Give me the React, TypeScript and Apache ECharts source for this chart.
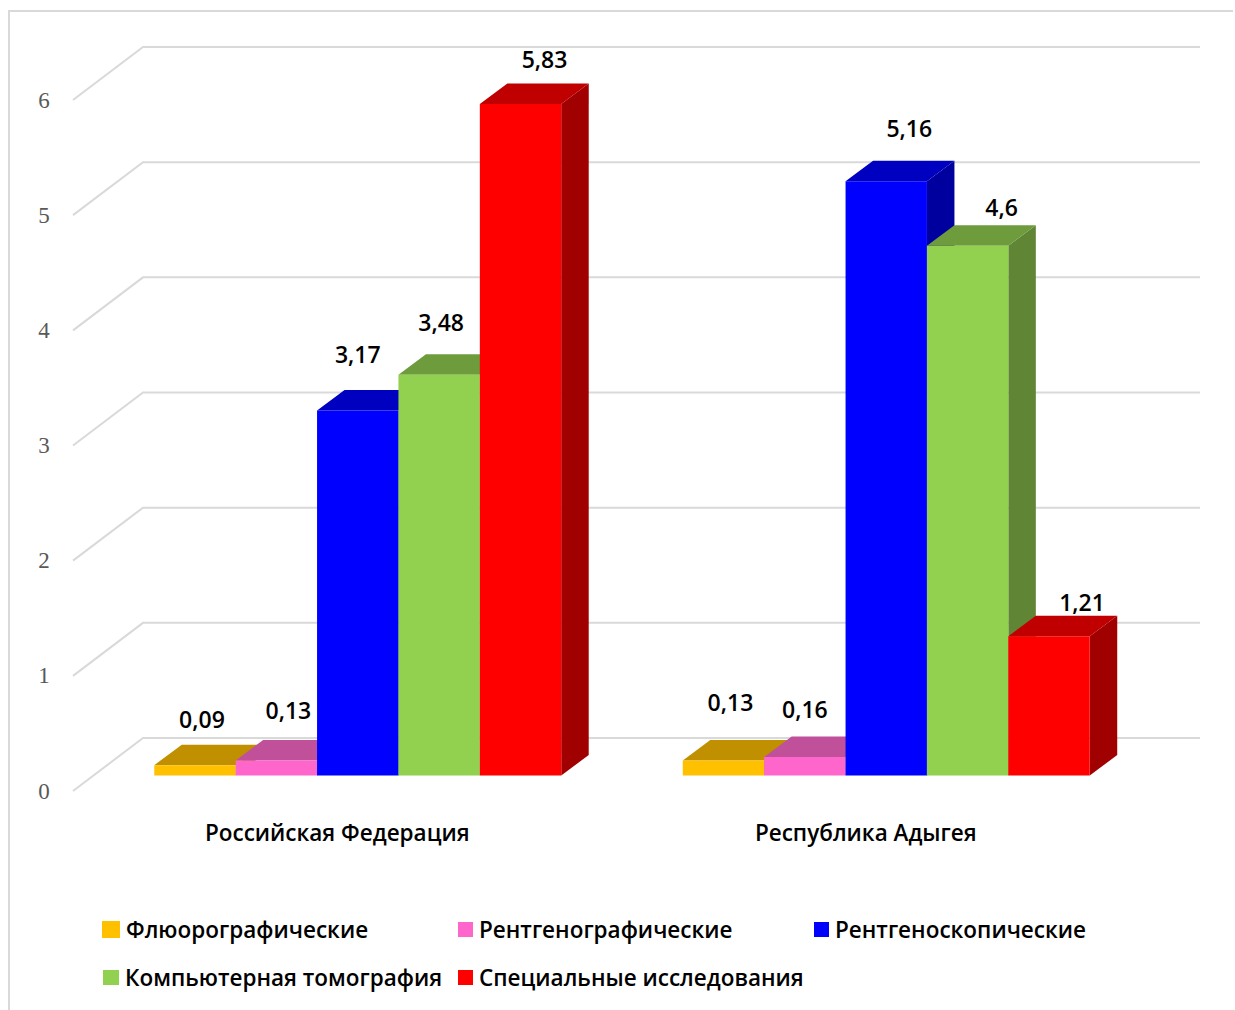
import React, { useEffect, useRef } from "react";
import * as echarts from "echarts";

const categories = ["Российская Федерация", "Республика Адыгея"];
const tickValues = [0, 1, 2, 3, 4, 5, 6];

const seriesNames = [
  "Флюорографические",
  "Рентгенографические",
  "Рентгеноскопические",
  "Компьютерная томография",
  "Специальные исследования",
];
const fluoro = [0.09, 0.13];
const radiography = [0.13, 0.16];
const fluoroscopy = [3.17, 5.16];
const tomography = [3.48, 4.6];
const specialStudies = [5.83, 1.21];
const seriesValues = [fluoro, radiography, fluoroscopy, tomography, specialStudies];

// Face colours of each box: front, top, right side.
const frontColors = ["#FFC000", "#FF66CC", "#0000FF", "#92D050", "#FF0000"];
const topColors = ["#C09000", "#C0509A", "#0000C0", "#6E9C3C", "#C00000"];
const sideColors = ["#A07800", "#A04080", "#00009E", "#5F8535", "#A00000"];

// Hand-placed label nudges relative to the top centre of each box, per category.
const labelNudges = [
  [[7, -46], [7, -59]],
  [[12, -51], [0, -48]],
  [[0, -56], [23, -53]],
  [[2, -53], [34, -39]],
  [[24, -45], [33, -34]],
];

const legendSlots = [
  { left: 102, top: 918, w: 18, h: 17 },
  { left: 458, top: 918, w: 15, h: 15 },
  { left: 814, top: 918, w: 15, h: 15 },
  { left: 103, top: 966, w: 16, h: 15 },
  { left: 458, top: 966, w: 15, h: 15 },
];

// Oblique projection: wall depth, box position in the depth, box depth.
const WALL_DX = 70;
const WALL_DY = -53;
const BOX_DX = 20.5;
const BOX_DY = -15.5;
const DEPTH_DX = 27.5;
const DEPTH_DY = -20.5;
const BOX_SHARE = 0.154;

const TEXT_FONT = '"Open Sans", sans-serif';

const formatValue = (v: number) => String(v).replace(".", ",");

function renderWall(params: any, api: any) {
  const cs = params.coordSys;
  const y = api.coord([0, api.value(0)])[1];
  return {
    type: "polyline",
    silent: true,
    shape: {
      points: [
        [cs.x, y],
        [cs.x + WALL_DX, y + WALL_DY],
        [cs.x + cs.width + WALL_DX, y + WALL_DY],
      ],
    },
    style: { stroke: "#D9D9D9", lineWidth: 2, fill: "none" },
  };
}

function boxRenderer(index: number) {
  return (_params: any, api: any) => {
    const catIndex = api.value(0);
    const value = api.value(1);
    const band = api.size([1, 0])[0];
    const w = band * BOX_SHARE;
    const [cx, topY] = api.coord([catIndex, value]);
    const baseY = api.coord([catIndex, 0])[1];
    const x0 = cx + BOX_DX + (index - 2.5) * w;
    const x1 = x0 + w;
    const t = topY + BOX_DY;
    const b = baseY + BOX_DY;
    const [nx, ny] = labelNudges[index][catIndex];
    const poly = (points: number[][], fill: string) => ({
      type: "polygon",
      shape: { points },
      style: { fill },
    });
    return {
      type: "group",
      children: [
        poly(
          [[x1, t], [x1 + DEPTH_DX, t + DEPTH_DY], [x1 + DEPTH_DX, b + DEPTH_DY], [x1, b]],
          sideColors[index]
        ),
        poly(
          [[x0, t], [x1, t], [x1 + DEPTH_DX, t + DEPTH_DY], [x0 + DEPTH_DX, t + DEPTH_DY]],
          topColors[index]
        ),
        poly([[x0, t], [x1, t], [x1, b], [x0, b]], frontColors[index]),
        {
          type: "text",
          x: (x0 + x1) / 2 + nx,
          y: t + ny,
          style: {
            text: formatValue(value),
            font: `600 23px ${TEXT_FONT}`,
            fill: "#000000",
            align: "center",
            verticalAlign: "middle",
          },
        },
      ],
    };
  };
}

export default function App() {
  const ref = useRef<HTMLDivElement>(null);

  useEffect(() => {
    document.body.style.margin = "0";
    const chart = echarts.init(ref.current!, undefined, { renderer: "svg" });
    chart.setOption({
      animation: false,
      backgroundColor: "#FFFFFF",
      grid: { left: 73, top: 100, width: 1057, height: 691, containLabel: false },
      xAxis: {
        type: "category",
        data: categories,
        axisLine: { show: false },
        axisTick: { show: false },
        axisLabel: {
          margin: 30,
          color: "#000000",
          fontFamily: TEXT_FONT,
          fontSize: 22.5,
          fontWeight: 600,
        },
      },
      yAxis: {
        type: "value",
        min: 0,
        max: 6,
        interval: 1,
        axisLine: { show: false },
        axisTick: { show: false },
        splitLine: { show: false },
        axisLabel: {
          margin: 29,
          align: "center",
          color: "#595959",
          fontFamily: '"Liberation Serif", serif',
          fontSize: 23,
        },
      },
      legend: seriesNames.map((name, i) => ({
        data: [name],
        left: legendSlots[i].left,
        top: legendSlots[i].top,
        itemWidth: legendSlots[i].w,
        itemHeight: legendSlots[i].h,
        itemGap: 0,
        padding: 0,
        icon: "rect",
        selectedMode: false,
        textStyle: {
          color: "#000000",
          fontFamily: TEXT_FONT,
          fontSize: 22.5,
          fontWeight: 600,
          padding: [0, 0, 0, 1],
        },
      })),
      graphic: [
        {
          type: "polyline",
          silent: true,
          shape: { points: [[9, 1010], [9, 11], [1233, 11]] },
          style: { stroke: "#D9D9D9", lineWidth: 2, fill: "none" },
        },
      ],
      series: [
        {
          type: "custom",
          name: "wall",
          clip: false,
          silent: true,
          renderItem: renderWall,
          encode: { y: 0 },
          data: tickValues.map((v) => [v]),
        },
        ...seriesNames.map((name, i) => ({
          type: "custom",
          name,
          clip: false,
          silent: true,
          itemStyle: { color: frontColors[i] },
          renderItem: boxRenderer(i),
          encode: { x: 0, y: 1 },
          data: seriesValues[i].map((v, c) => [c, v]),
        })),
      ],
    });
    return () => chart.dispose();
  }, []);

  return (
    <div
      ref={ref}
      style={{ position: "absolute", left: 0, top: 0, width: 1235, height: 1010 }}
    />
  );
}
